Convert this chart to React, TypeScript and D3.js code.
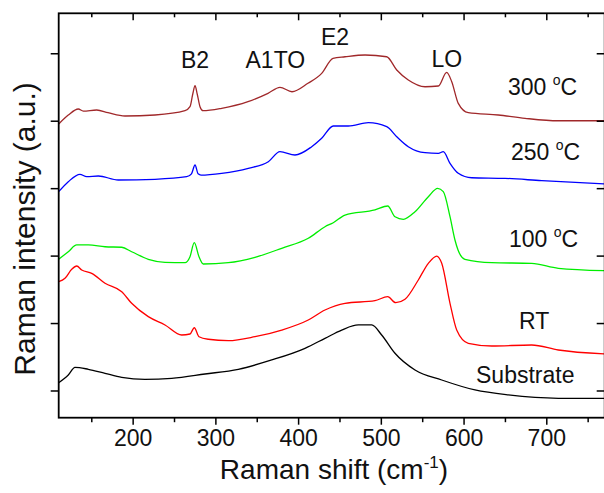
import React from "react";
import * as d3 from "d3";

// Raman spectra: [shift (cm-1), intensity (a.u., offset)]
const spec300: [number, number][] = [
  [110, 3.959], [121.6, 4.092], [133.7, 4.181], [139.7, 4.151], [155.9, 4.166], [169.6, 4.126],
  [190.1, 4.077], [226.4, 4.092], [262.7, 4.156], [268.7, 4.215], [272, 4.40], [274.8, 4.526],
  [277.5, 4.40], [280.8, 4.215], [284.4, 4.156], [307, 4.191], [338.8, 4.289], [363, 4.414],
  [377.5, 4.503], [392, 4.437], [411.3, 4.562], [427.9, 4.710], [441.6, 4.933], [456.1, 4.956],
  [480.3, 4.982], [506.5, 4.956], [518.6, 4.759], [532.6, 4.611], [552.8, 4.511], [568.9, 4.522],
  [579, 4.725], [585.1, 4.586], [593, 4.265], [605.1, 4.126], [641.4, 4.092], [673.7, 4.043],
  [714, 4.007], [770, 4.007],
];
const spec250: [number, number][] = [
  [110, 2.955], [121.6, 3.103], [135.7, 3.213], [143.8, 3.177], [157.9, 3.188], [182, 3.128],
  [226.4, 3.139], [264.7, 3.177], [270.5, 3.22], [274.8, 3.351], [278.5, 3.22], [282, 3.202],
  [307, 3.228], [339.2, 3.302], [363.4, 3.400], [377.5, 3.548], [395.6, 3.499], [415.8, 3.622],
  [427.9, 3.747], [441.9, 3.929], [460.1, 3.929], [484.3, 3.978], [506.5, 3.919], [518.6, 3.770],
  [532.6, 3.622], [552.8, 3.533], [568.9, 3.524], [574.9, 3.548], [583, 3.376], [593, 3.228],
  [609.2, 3.162], [649.5, 3.153], [693.9, 3.118], [770, 3.069],
];
const spec100: [number, number][] = [
  [110, 1.953], [121.6, 2.065], [131.8, 2.165], [145.8, 2.165], [166, 2.139], [186.2, 2.131],
  [198.2, 2.065], [218.3, 1.953], [238.5, 1.908], [262.7, 1.902], [268.7, 1.991], [273.9, 2.199],
  [279.6, 1.991], [284.8, 1.883], [315, 1.902], [347.3, 1.982], [379.6, 2.116], [411.7, 2.264],
  [431.9, 2.436], [441.9, 2.495], [456.1, 2.609], [492.3, 2.684], [507.7, 2.743], [516.5, 2.584],
  [526.6, 2.546], [540.7, 2.658], [556.8, 2.881], [568.1, 3.005], [574.9, 2.955], [583, 2.584],
  [589, 2.239], [592.7, 2.090], [601, 1.953], [633.4, 1.902], [681.7, 1.893], [713.9, 1.819],
  [770, 1.784],
];
const specRT: [number, number][] = [
  [110, 1.620], [117.6, 1.671], [125.7, 1.804], [131.8, 1.853], [137.8, 1.794], [149.9, 1.745],
  [166, 1.597], [186.2, 1.472], [198.2, 1.300], [218.3, 1.102], [238.5, 0.979], [258.7, 0.830],
  [268.7, 0.845], [273.9, 0.938], [279.6, 0.805], [290.8, 0.767], [315, 0.746], [347.3, 0.805],
  [379.6, 0.904], [411.7, 1.053], [431.9, 1.201], [456.1, 1.300], [492.3, 1.339], [507.7, 1.398],
  [517.4, 1.309], [528.6, 1.360], [544.7, 1.646], [556.8, 1.893], [566.9, 2.001], [573, 1.893],
  [583, 1.300], [591.1, 0.904], [605.1, 0.707], [633.4, 0.667], [681.7, 0.682], [713.9, 0.608],
  [770, 0.549],
];
const specSub: [number, number][] = [
  [110, 0.123], [121.6, 0.237], [129.7, 0.351], [145.8, 0.322], [166, 0.262], [186.2, 0.203],
  [214.3, 0.173], [246.6, 0.188], [286.8, 0.252], [327.1, 0.322], [367.5, 0.460], [407.7, 0.633],
  [431.9, 0.781], [452.1, 0.904], [472.2, 0.979], [488.4, 0.979], [500.4, 0.830], [516.5, 0.559],
  [540.7, 0.311], [573, 0.163], [613.2, 0.015], [653.5, -0.059], [714, -0.108], [770, -0.108],
];

const seriesColors = ["#a0282a", "#0000ff", "#00ee00", "#ff0000", "#000000"];
const seriesData = [spec300, spec250, spec100, specRT, specSub];

const xMajorTicks = [200, 300, 400, 500, 600, 700];
const xMinorTicks = [150, 250, 350, 450, 550, 650, 750];
const yTicks = [0, 1, 2, 3, 4, 5];

const sampleLabels = [
  { num: "300 ", deg: true, x: 508, y: 95 },
  { num: "250 ", deg: true, x: 511, y: 160 },
  { num: "100 ", deg: true, x: 509, y: 247 },
  { num: "RT", deg: false, x: 519, y: 329 },
  { num: "Substrate", deg: false, x: 476, y: 383 },
];
const modeLabels = [
  { t: "B2", x: 181, y: 68 },
  { t: "A1TO", x: 245.5, y: 68 },
  { t: "E2", x: 321, y: 45 },
  { t: "LO", x: 431.5, y: 67 },
];

const W = 604;
const H = 493;
const L = 58.7, R = 604.7, T = 13.3, B = 417.7;
const FONT = "'Liberation Sans', Arial, Helvetica, sans-serif";

export default function App() {
  const x = d3.scaleLinear().domain([110, 770]).range([L, R]);
  const y = d3.scaleLinear().domain([-0.396, 5.6]).range([B, T]);
  const line = d3
    .line<[number, number]>()
    .x((d) => x(d[0]))
    .y((d) => y(d[1]))
    .curve(d3.curveMonotoneX);

  return (
    <svg
      width={W}
      height={H}
      style={{ position: "absolute", left: 0, top: 0, display: "block", background: "#fff" }}
      fontFamily={FONT}
    >
      <defs>
        <clipPath id="plot">
          <rect x={L} y={T} width={R - L} height={B - T} />
        </clipPath>
      </defs>
      <g clipPath="url(#plot)">
        {seriesData.map((s, i) => (
          <path key={i} d={line(s) || ""} fill="none" stroke={seriesColors[i]} strokeWidth={1.3} />
        ))}
      </g>
      {/* frame */}
      <rect x={L} y={T} width={R - L} height={B - T} fill="none" stroke="#000" strokeWidth={1.8} />
      {/* x ticks */}
      {xMajorTicks.map((t) => (
        <g key={"M" + t}>
          <line x1={x(t)} x2={x(t)} y1={B} y2={B + 7} stroke="#000" strokeWidth={1.5} />
          <line x1={x(t)} x2={x(t)} y1={T} y2={T + 7} stroke="#000" strokeWidth={1.5} />
          <text x={x(t)} y={445.5} textAnchor="middle" fontSize={23} fill="#111">
            {t}
          </text>
        </g>
      ))}
      {xMinorTicks.map((t) => (
        <g key={"m" + t}>
          <line x1={x(t)} x2={x(t)} y1={B} y2={B + 4.5} stroke="#000" strokeWidth={1.5} />
          <line x1={x(t)} x2={x(t)} y1={T} y2={T + 4} stroke="#000" strokeWidth={1.5} />
        </g>
      ))}
      {/* y ticks */}
      {yTicks.map((t) => (
        <g key={"y" + t}>
          <line x1={L - 8} x2={L} y1={y(t)} y2={y(t)} stroke="#000" strokeWidth={1.5} />
          <line x1={R - 8} x2={R} y1={y(t)} y2={y(t)} stroke="#000" strokeWidth={1.5} />
        </g>
      ))}
      {/* axis titles */}
      <text x={334} y={478.5} textAnchor="middle" fontSize={28} fill="#111">
        Raman shift (cm
        <tspan fontSize={17} dy={-11}>-1</tspan>
        <tspan dy={11}>)</tspan>
      </text>
      <text
        transform="translate(35,229) rotate(-90)"
        textAnchor="middle"
        fontSize={30}
        fill="#111"
      >
        Raman intensity (a.u.)
      </text>
      {/* mode labels */}
      {modeLabels.map((m) => (
        <text key={m.t} x={m.x} y={m.y} fontSize={23} fill="#111">
          {m.t}
        </text>
      ))}
      {/* sample labels */}
      {sampleLabels.map((s) => (
        <text key={s.num} x={s.x} y={s.y} fontSize={23} fill="#111">
          {s.num}
          {s.deg ? (
            <>
              <tspan fontSize={14} dy={-10}>o</tspan>
              <tspan dy={10}>C</tspan>
            </>
          ) : null}
        </text>
      ))}
    </svg>
  );
}
